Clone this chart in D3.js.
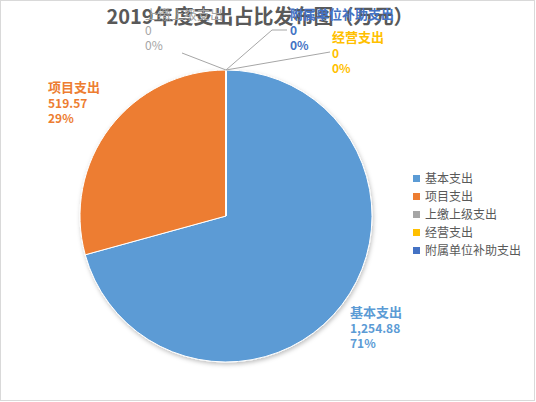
<!DOCTYPE html>
<html>
<head>
<meta charset="utf-8">
<script src="https://cdn.jsdelivr.net/npm/d3@7"></script>
<style>
body { margin: 0; background: #fff; }
text { font-family: "Noto Sans CJK SC", "Microsoft YaHei", sans-serif; }
</style>
</head>
<body>
<svg id="chart" width="536" height="402"></svg>
<script>
var categories = ["基本支出", "项目支出", "上缴上级支出", "经营支出", "附属单位补助支出"];
var values = [1254.88, 519.57, 0, 0, 0];
var value_labels = ["1,254.88", "519.57", "0", "0", "0"];
var pct_labels = ["71%", "29%", "0%", "0%", "0%"];
var colors = ["#5b9bd5", "#ed7d31", "#a5a5a5", "#ffc000", "#4472c4"];

// where each data label sits (layout only)
var label_pos = [
	{x: 350, y: 312, bold: true},
	{x: 48, y: 87, bold: true},
	{x: 145, y: 14, bold: false},
	{x: 332, y: 37, bold: true},
	{x: 290, y: 14, bold: true}
];
var leader_end = [null, null, [[182, 53]], [[330, 52]], [[272, 30], [287, 30]]];

var svg = d3.select("#chart");
var cx = 226, cy = 216, r = 146;

svg.append("rect")
	.attr("x", 0.5).attr("y", 0.5)
	.attr("width", 534).attr("height", 400)
	.attr("fill", "#fff")
	.attr("stroke", "#d9d9d9");

var defs = svg.append("defs");
defs.append("filter").attr("id", "shadow")
	.attr("x", "-10%").attr("y", "-10%").attr("width", "120%").attr("height", "120%")
	.append("feDropShadow")
	.attr("dx", 1).attr("dy", 2).attr("stdDeviation", 2)
	.attr("flood-color", "#000").attr("flood-opacity", 0.25);

var pie = d3.pie().sort(null).value(function(d) { return d; });
var arcs = pie(values);
var arc = d3.arc().innerRadius(0).outerRadius(r);

var g = svg.append("g").attr("transform", "translate(" + cx + "," + cy + ")");
g.append("g").attr("filter", "url(#shadow)")
	.selectAll("path")
	.data(arcs)
	.enter().append("path")
	.attr("d", arc)
	.attr("fill", function(d, i) { return colors[i]; })
	.attr("stroke", "#fff")
	.attr("stroke-width", 1);

// title
svg.append("text")
	.attr("x", 260).attr("y", 24)
	.attr("text-anchor", "middle")
	.attr("font-size", 20)
	.attr("font-weight", "bold")
	.attr("fill", "#595959")
	.text("2019年度支出占比发布图（万元）");

// leader lines for the zero slices
arcs.forEach(function(a, i) {
	if (!leader_end[i]) return;
	var ang = a.startAngle;
	var start = [cx + r * Math.sin(ang), cy - r * Math.cos(ang)];
	var pts = [start].concat(leader_end[i]);
	svg.append("path")
		.attr("d", d3.line()(pts))
		.attr("fill", "none")
		.attr("stroke", "#a6a6a6")
		.attr("stroke-width", 1);
});

// data labels
categories.forEach(function(c, i) {
	var p = label_pos[i];
	var t = svg.append("g").attr("fill", colors[i])
		.attr("font-weight", p.bold ? "bold" : "normal");
	t.append("text").attr("x", p.x).attr("y", p.y + 5)
		.attr("font-size", 13).text(c);
	t.append("text").attr("x", p.x).attr("y", p.y + 21)
		.attr("font-size", 12).text(value_labels[i]);
	t.append("text").attr("x", p.x).attr("y", p.y + 36)
		.attr("font-size", 12).text(pct_labels[i]);
});

// legend
var legend_order = [0, 1, 2, 3, 4];
var legend = svg.append("g").attr("transform", "translate(413,179)");
legend_order.forEach(function(i, k) {
	var row = legend.append("g").attr("transform", "translate(0," + (k * 18) + ")");
	row.append("rect")
		.attr("x", 0).attr("y", -4)
		.attr("width", 7).attr("height", 7)
		.attr("fill", colors[i]);
	row.append("text")
		.attr("x", 12).attr("y", 4)
		.attr("font-size", 12)
		.attr("fill", "#595959")
		.text(categories[i]);
});
</script>
</body>
</html>
